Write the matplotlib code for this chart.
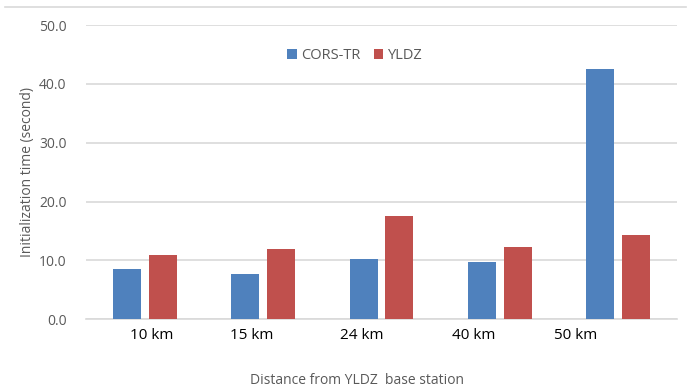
import matplotlib
matplotlib.use("Agg")
import matplotlib.pyplot as plt
from matplotlib.lines import Line2D
import numpy as np

plt.rcParams['font.family'] = ['Open Sans', 'DejaVu Sans']

categories = ["10 km", "15 km", "24 km", "40 km", "50 km"]
cors_tr = [8.6, 7.7, 10.3, 9.8, 42.6]
yldz = [10.9, 12.0, 17.5, 12.2, 14.3]
y_ticks = [0, 10, 20, 30, 40, 50]
# tick labels sit slightly left of each group centre
label_shift = [0.06, -0.10, -0.165, -0.22, -0.355]

blue = "#4F81BD"
red = "#C0504D"
grid_c = "#D9D9D9"
text_gray = "#595959"

fig = plt.figure(figsize=(6.93, 3.91), dpi=100)
ax = fig.add_axes([0.124, 0.1834, 0.853, 0.7526])

x = np.arange(len(categories))
w = 0.237
off = 0.152
ax.bar(x - off, cors_tr, w, color=blue, label="CORS-TR", zorder=3)
ax.bar(x + off, yldz, w, color=red, label="YLDZ", zorder=3)

ax.set_xlim(-0.5, len(categories) - 0.5)
ax.set_ylim(0, 50)
ax.set_yticks(y_ticks)
ax.set_yticklabels([f"{v:.1f}" for v in y_ticks], color=text_gray, fontsize=10)
ax.set_xticks(x + np.array(label_shift))
ax.set_xticklabels(categories, fontsize=11, color="black")
ax.tick_params(axis='both', length=0)
ax.tick_params(axis='y', pad=14)
ax.tick_params(axis='x', pad=6)

ax.yaxis.grid(True, color=grid_c, linewidth=1.2, zorder=0)
for s in ["top", "right", "left"]:
    ax.spines[s].set_visible(False)
ax.spines["bottom"].set_color(grid_c)
ax.spines["bottom"].set_linewidth(1.2)

ax.set_ylabel("Initialization time (second)", color=text_gray, fontsize=10, labelpad=3)
fig.text(0.515, 0.028, "Distance from YLDZ  base station", color=text_gray,
         fontsize=10, ha="center", va="center")

leg = ax.legend(loc="center", bbox_to_anchor=(0.455, 0.895), ncol=2, frameon=False,
                fontsize=10.5, handlelength=0.65, handleheight=0.65, handletextpad=0.3,
                columnspacing=0.9, labelcolor=text_gray)

# thin frame line across the top of the chart
fig.add_artist(Line2D([0.007, 0.99], [1 - 7 / 391, 1 - 7 / 391], color=grid_c,
                      linewidth=1.2, transform=fig.transFigure))

fig.savefig("out.png", dpi=100)
